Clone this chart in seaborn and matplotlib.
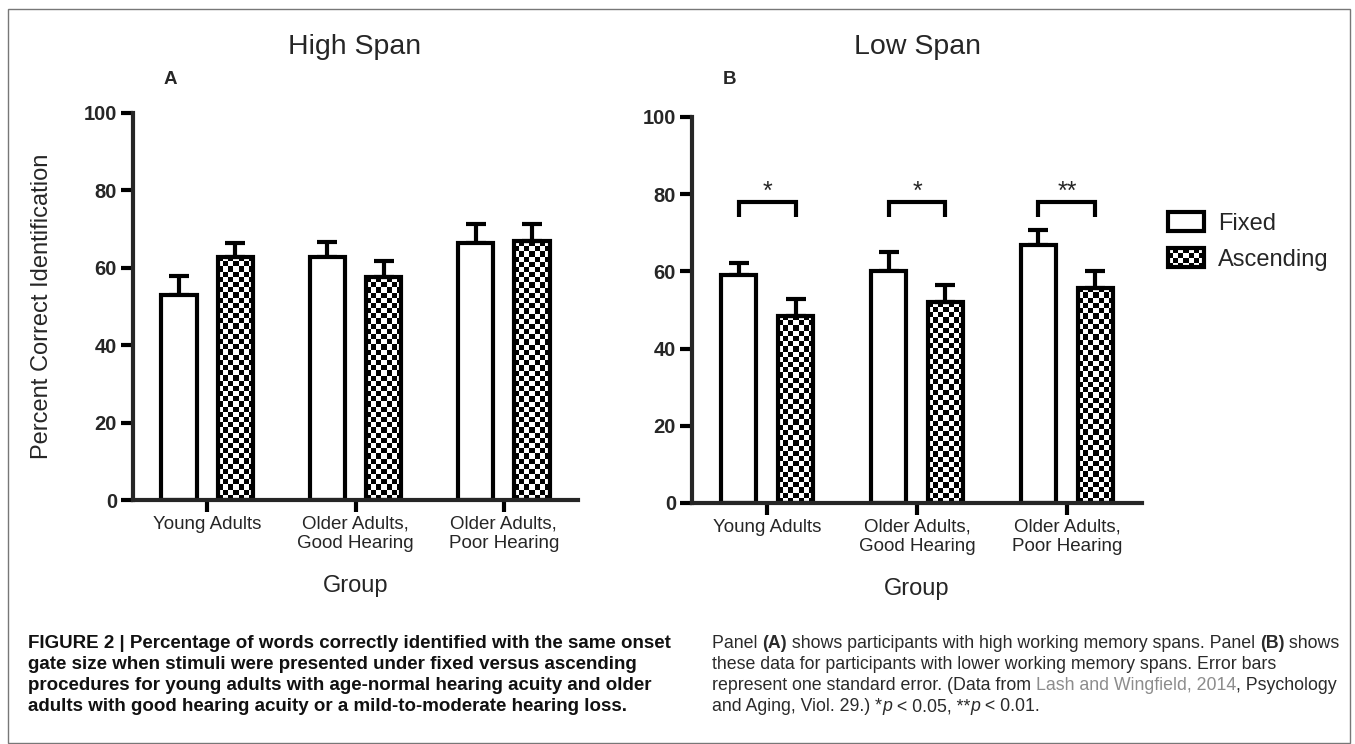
import numpy as np
import pandas as pd
import matplotlib
matplotlib.use('Agg')
import matplotlib.pyplot as plt
import seaborn as sns
from matplotlib.patches import Rectangle, Patch
from matplotlib.legend_handler import HandlerBase
from matplotlib import font_manager
from matplotlib.font_manager import FontProperties

# ------------------------------ data ------------------------------
groups = ['Young Adults', 'Older Adults,\nGood Hearing', 'Older Adults,\nPoor Hearing']
conditions = ['Fixed', 'Ascending']

high_fixed = [53.0, 62.8, 66.4]
high_fixed_se = [4.9, 3.9, 4.9]
high_asc = [62.8, 57.6, 66.9]
high_asc_se = [3.6, 4.2, 4.4]

low_fixed = [59.0, 60.1, 66.8]
low_fixed_se = [3.2, 4.9, 3.9]
low_asc = [48.5, 52.0, 55.7]
low_asc_se = [4.3, 4.5, 4.4]

low_sig = ['*', '*', '**']
sig_y = 78
yticks = [0, 20, 40, 60, 80, 100]

panel_titles = ['High Span', 'Low Span']
panel_letters = ['A', 'B']

caption_left = [
    'FIGURE 2 | Percentage of words correctly identified with the same onset',
    'gate size when stimuli were presented under fixed versus ascending',
    'procedures for young adults with age-normal hearing acuity and older',
    'adults with good hearing acuity or a mild-to-moderate hearing loss.',
]

# ------------------------------ style ------------------------------
sns.set_theme(style='ticks')
plt.rcParams['font.family'] = ['Liberation Sans', 'DejaVu Sans']
plt.rcParams['axes.linewidth'] = 3

W, H = 1355, 744
fig = plt.figure(figsize=(W / 100, H / 100), dpi=100)
fig.patch.set_facecolor('white')


def px_axes(l, t, r, b):
    return fig.add_axes([l / W, 1 - b / H, (r - l) / W, (b - t) / H])


def checker_fill(ax, patches, cell=5.2):
    boxes = []
    for p in patches:
        x0, y0, w, h = p.get_x(), p.get_y(), p.get_width(), p.get_height()
        a = ax.transData.transform((x0, y0))
        b = ax.transData.transform((x0 + w, y0 + h))
        boxes.append((p, x0, y0, w, h, b[0] - a[0], b[1] - a[1]))
    for p, x0, y0, w, h, wpx, hpx in boxes:
        nc = max(1, int(round(wpx / cell)))
        nr = max(1, int(round(hpx / cell)))
        jj, ii = np.meshgrid(np.arange(nc), np.arange(nr))
        board = (ii + jj) % 2
        im = ax.imshow(board, extent=(x0, x0 + w, y0, y0 + h), cmap='gray', vmin=0, vmax=1,
                       interpolation='nearest', aspect='auto', origin='lower', zorder=0.8)
        im.set_clip_path(p)
        p.set_facecolor('none')


def draw_panel(ax, fixed, fixed_se, asc, asc_se, ylabel):
    df = pd.DataFrame({
        'group': groups * 2,
        'condition': ['Fixed'] * 3 + ['Ascending'] * 3,
        'pct': fixed + asc,
    })
    sns.barplot(data=df, x='group', y='pct', hue='condition', order=groups, hue_order=conditions,
                palette=['white', 'white'], saturation=1, edgecolor='black', linewidth=3,
                width=0.76, gap=0.37, errorbar=None, legend=False, ax=ax)
    for cont, se in zip(ax.containers, [fixed_se, asc_se]):
        xs = [p.get_x() + p.get_width() / 2 for p in cont]
        hs = [p.get_height() for p in cont]
        ax.errorbar(xs, hs, yerr=[np.zeros(len(se)), se], fmt='none', ecolor='black',
                    elinewidth=3, capsize=7.5, capthick=3, zorder=0.9)
    ax.set_xlim(-0.5, 2.5)
    ax.set_ylim(0, 100)
    ax.set_yticks(yticks)
    checker_fill(ax, ax.containers[1])
    ax.set_xlim(-0.5, 2.5)
    ax.set_ylim(0, 100)
    sns.despine(ax=ax)
    ax.tick_params(axis='both', width=3, length=8.5, direction='out', color='black', pad=3)
    for lab in ax.get_yticklabels():
        lab.set_fontsize(14.5)
        lab.set_fontweight('bold')
    for lab in ax.get_xticklabels():
        lab.set_fontsize(13.5)
        lab.set_linespacing(1.12)
    ax.set_xlabel('Group', fontsize=17)
    ax.xaxis.set_label_coords(0.5, -0.222)
    ax.xaxis.label.set_va('center')
    ax.set_ylabel(ylabel, fontsize=17)
    if ylabel:
        ax.yaxis.set_label_coords(-0.205, 0.5)
        ax.yaxis.label.set_va('center')
    ax.set_facecolor('white')


ax_a = px_axes(133, 113, 578, 500)
ax_b = px_axes(692, 117, 1142, 503)
draw_panel(ax_a, high_fixed, high_fixed_se, high_asc, high_asc_se, 'Percent Correct Identification')
draw_panel(ax_b, low_fixed, low_fixed_se, low_asc, low_asc_se, '')

# significance brackets in panel B
fx = [p.get_x() + p.get_width() / 2 for p in ax_b.containers[0]]
axx = [p.get_x() + p.get_width() / 2 for p in ax_b.containers[1]]
for xf, xa, s in zip(fx, axx, low_sig):
    ax_b.plot([xf, xf, xa, xa], [sig_y - 4, sig_y, sig_y, sig_y - 4], color='black', lw=3,
              solid_joinstyle='miter', solid_capstyle='butt')
    ax_b.text((xf + xa) / 2, sig_y - 0.4, s, ha='center', va='bottom', fontsize=18)

# titles and panel letters
fig.text(355 / W, 1 - 47 / H, panel_titles[0], ha='center', va='center', fontsize=20.5)
fig.text(917 / W, 1 - 47 / H, panel_titles[1], ha='center', va='center', fontsize=20.5)
fig.text(170 / W, 1 - 80 / H, panel_letters[0], ha='center', va='center', fontsize=13.5, fontweight='bold')
fig.text(729 / W, 1 - 80 / H, panel_letters[1], ha='center', va='center', fontsize=13.5, fontweight='bold')


# legend with checkered swatch
class CheckerHandler(HandlerBase):
    def create_artists(self, legend, orig_handle, xdescent, ydescent, width, height, fontsize, trans):
        arts = []
        ncol = max(2, int(round(width / 3.8)))
        nrow = max(2, int(round(height / 3.8)))
        cw, ch = width / ncol, height / nrow
        for i in range(nrow):
            for j in range(ncol):
                if (i + j) % 2 == 0:
                    arts.append(Rectangle((-xdescent + j * cw, -ydescent + i * ch), cw, ch,
                                          facecolor='black', edgecolor='none', transform=trans))
        arts.append(Rectangle((-xdescent, -ydescent), width, height, facecolor='none',
                              edgecolor='black', lw=3, transform=trans))
        return arts


h_fixed = Patch(facecolor='white', edgecolor='black', lw=3, label='Fixed')
h_asc = Patch(facecolor='white', edgecolor='black', lw=3, label='Ascending')
ax_b.legend(handles=[h_fixed, h_asc], handler_map={h_asc: CheckerHandler()},
            loc='upper left', bbox_to_anchor=(1168 / W, 1 - 212 / H), bbox_transform=fig.transFigure,
            frameon=False, fontsize=17, handlelength=1.53, handleheight=0.86, handletextpad=0.6,
            labelspacing=0.58, borderpad=0, borderaxespad=0)

# ------------------------------ caption ------------------------------
fig.canvas.draw()
renderer = fig.canvas.get_renderer()


def seg_width(s, **kw):
    t1 = fig.text(0, 0, s + 'x', **kw)
    w1 = t1.get_window_extent(renderer).width
    t1.remove()
    t2 = fig.text(0, 0, 'x', **kw)
    w2 = t2.get_window_extent(renderer).width
    t2.remove()
    return w1 - w2


def draw_line(x_px, y_px, segs, size):
    x = x_px
    for s, kw in segs:
        fig.text(x / W, 1 - y_px / H, s, fontsize=size, va='baseline', ha='left', **kw)
        x += seg_width(s, fontsize=size, **kw)


try:
    font_manager.findfont(FontProperties(family='Liberation Sans Narrow', weight='bold'),
                          fallback_to_default=False)
    cap_family = 'Liberation Sans Narrow'
except ValueError:
    cap_family = 'Liberation Sans'

left_kw = dict(family=cap_family, fontweight='bold', color='#111111')
left_size = 12 * 642 / seg_width(caption_left[0], fontsize=12, **left_kw)
baselines = [648, 669, 690, 711]
for line, yb in zip(caption_left, baselines):
    draw_line(28, yb, [(line, left_kw)], left_size)

reg = dict(color='#2a2a2a')
bold = dict(color='#2a2a2a', fontweight='bold')
gray = dict(color='#8c8c8c')
ital = dict(color='#2a2a2a', fontstyle='italic')
caption_right = [
    [('Panel ', reg), ('(A)', bold), (' shows participants with high working memory spans. Panel ', reg),
     ('(B)', bold), (' shows', reg)],
    [('these data for participants with lower working memory spans. Error bars', reg)],
    [('represent one standard error. (Data from ', reg), ('Lash and Wingfield, 2014', gray),
     (', Psychology', reg)],
    [('and Aging, Viol. 29.) *', reg), ('p', ital), (' < 0.05, **', reg), ('p', ital), (' < 0.01.', reg)],
]
w0 = sum(seg_width(s, fontsize=12, **kw) for s, kw in caption_right[0])
right_size = 12 * 631 / w0
for segs, yb in zip(caption_right, baselines):
    draw_line(712, yb, segs, right_size)

# figure frame
fig.add_artist(Rectangle((8 / W, 1 / H), 1342 / W, 734 / H, transform=fig.transFigure,
                         fill=False, edgecolor='#777777', lw=1))

fig.savefig('out.png', dpi=100)
